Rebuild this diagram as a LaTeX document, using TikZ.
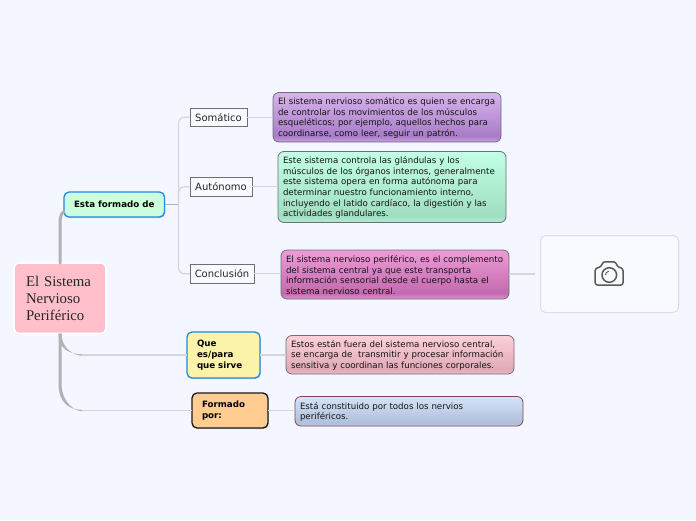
\documentclass[tikz,border=0pt]{standalone}
\usepackage{fontspec}
\setmainfont{DejaVu Sans}
\newfontfamily\rootfont{Liberation Serif}
\usetikzlibrary{shadows,calc}
\definecolor{bgc}{HTML}{F4F7FF}
\definecolor{thinline}{HTML}{D4D6DC}
\definecolor{trunk}{HTML}{B2B2B6}
\definecolor{edgegray}{HTML}{6E6E78}
\definecolor{rootpink}{HTML}{FFC0CB}
\definecolor{borderblue}{HTML}{1E88E5}
\definecolor{puA}{RGB}{201,160,224}\definecolor{puB}{RGB}{168,124,200}\definecolor{puC}{RGB}{216,180,236}
\definecolor{grA}{RGB}{176,236,210}\definecolor{grB}{RGB}{160,222,194}\definecolor{grC}{RGB}{194,255,228}
\definecolor{piA}{RGB}{226,146,208}\definecolor{piB}{RGB}{194,106,174}\definecolor{piC}{RGB}{238,156,216}
\definecolor{roA}{RGB}{236,186,198}\definecolor{roB}{RGB}{224,170,182}\definecolor{roC}{RGB}{252,208,218}
\definecolor{blA}{RGB}{190,204,228}\definecolor{blB}{RGB}{176,192,220}\definecolor{blC}{RGB}{214,227,248}
\pgfdeclareverticalshading{gpurple}{100bp}{color(0bp)=(puA);color(25bp)=(puA);color(31bp)=(puB);color(75bp)=(puC);color(100bp)=(puC)}
\pgfdeclareverticalshading{ggreen}{100bp}{color(0bp)=(grA);color(25bp)=(grA);color(30bp)=(grB);color(75bp)=(grC);color(100bp)=(grC)}
\pgfdeclareverticalshading{gpink}{100bp}{color(0bp)=(piA);color(25bp)=(piA);color(31bp)=(piB);color(75bp)=(piC);color(100bp)=(piC)}
\pgfdeclareverticalshading{grose}{100bp}{color(0bp)=(roA);color(25bp)=(roA);color(31bp)=(roB);color(75bp)=(roC);color(100bp)=(roC)}
\pgfdeclareverticalshading{gblue}{100bp}{color(0bp)=(blA);color(25bp)=(blA);color(31bp)=(blB);color(75bp)=(blC);color(100bp)=(blC)}
\tikzset{
  x=1pt,y=-1pt,
  every node/.style={outer sep=0pt},
  detail/.style={draw=edgegray,line width=0.8pt,rounded corners=6pt,anchor=north west,
    minimum width=228pt,text width=218pt,inner xsep=5pt,inner ysep=0pt,align=left,
    font=\fontsize{8.65}{10.7}\selectfont,text=black!92},
  topic/.style={draw=edgegray,fill=white!40!bgc,line width=0.8pt,anchor=north west,inner sep=0pt,
    minimum height=18.5pt,font=\fontsize{10}{12}\selectfont,text=black!85},
  main/.style={line width=1.3pt,rounded corners=5pt,anchor=north west,inner xsep=10pt,inner ysep=0pt,
    align=left,font=\fontsize{8.7}{10.7}\selectfont\bfseries,text=black,
    drop shadow={shadow xshift=0.5pt,shadow yshift=-1pt,opacity=.3,fill=black!60}},
  thin/.style={draw=thinline,line width=1.2pt},
  thick trunk/.style={draw=trunk,line width=3pt},
}
\begin{document}
\begin{tikzpicture}
\useasboundingbox[fill=bgc] (0,0) rectangle (696,520);
% nodes
\node[draw=white,line width=1.6pt,fill=rootpink,rounded corners=5pt,anchor=north west,
  minimum width=92pt,minimum height=70.5pt,text width=68pt,inner xsep=12pt,inner ysep=0pt,align=left,
  font=\rootfont\fontsize{14.8}{17}\selectfont,text=black!85] (root) at (14,263)
  {El Sistema\\Nervioso\\Periférico};
\node[main,draw=borderblue,fill={rgb,255:red,204;green,255;blue,221},minimum width=100pt,minimum height=25pt] (esta) at (64,192) {Esta formado de};
\node[main,draw=borderblue,fill={rgb,255:red,252;green,243;blue,170},minimum width=73pt,minimum height=46pt,text width=53pt] (que) at (187,332) {Que\\es/para\\que sirve};
\node[main,draw=black!90,fill={rgb,255:red,255;green,204;blue,145},minimum width=76pt,minimum height=35pt,text width=56pt] (formado) at (192,393) {Formado\\por:};
\node[topic,minimum width=57pt] (soma) at (190,108) {Somático};
\node[topic,minimum width=62pt] (auto) at (190,177.5) {Autónomo};
\node[topic,minimum width=64pt] (conc) at (190,264.5) {Conclusión};
\node[detail,shading=gpurple,minimum height=49.5pt,yshift=0pt] (d1) at (273,92.5) {\rule{0pt}{8pt}El sistema nervioso somático es quien se encarga\\de controlar los movimientos de los músculos\\esqueléticos; por ejemplo, aquellos hechos para\\coordinarse, como leer, seguir un patrón.};
\node[detail,shading=ggreen,minimum height=71pt] (d2) at (278,151.5) {\rule{0pt}{8pt}Este sistema controla las glándulas y los\\músculos de los órganos internos, generalmente\\este sistema opera en forma autónoma para\\determinar nuestro funcionamiento interno,\\incluyendo el latido cardíaco, la digestión y las\\actividades glandulares.};
\node[detail,shading=gpink,minimum height=49pt] (d3) at (281,250) {\rule{0pt}{8pt}El sistema nervioso periférico, es el complemento\\del sistema central ya que este transporta\\información sensorial desde el cuerpo hasta el\\sistema nervioso central.};
\node[detail,shading=grose,minimum height=38.5pt] (d4) at (286,335.5) {\rule{0pt}{8pt}Estos están fuera del sistema nervioso central,\\se encarga de\ \ transmitir y procesar información\\sensitiva y coordinan las funciones corporales.};
\node[detail,shading=gblue,minimum height=29.5pt,draw=black!30!purple!50!gray] (d5) at (295,396.5) {\rule{0pt}{8pt}Está constituido por todos los nervios\\periféricos.};
\node[draw=black!10!bgc,fill=white!35!bgc,line width=1pt,rounded corners=5pt,anchor=north west,minimum width=138pt,minimum height=77pt] (img) at (540.5,235.5) {};
\coordinate (imgin) at (535,274);
% connectors from root
\draw[thin] ($(que.west)+(-105,0)$) -- (que.west);
\draw[thin] ($(formado.west)+(-110,0)$) -- (formado.west);
\draw[thick trunk,line cap=round] (root.north) -- ($(root.north)+(0,-33)$) .. controls ($(root.north)+(0,-44)$) and ($(esta.west)+(-4,9)$) .. ($(esta.west)+(0,7)$);
% tapered branches: wide at the root, hairline where they meet the thin line
\fill[trunk] ($(root.south)+(-1.5,0)$) .. controls ($(root.south)+(-1.5,15)$) and ($(que.west)+(-118,-0.7)$) .. ($(que.west)+(-105,-0.7)$)
  -- ($(que.west)+(-105,0.7)$) .. controls ($(que.west)+(-113,0.7)$) and ($(root.south)+(1.5,15)$) .. ($(root.south)+(1.5,0)$) -- cycle;
\fill[trunk] ($(root.south)+(-1.5,0)$) -- ($(root.south)+(-1.5,50)$) .. controls ($(root.south)+(-1.5,70)$) and ($(formado.west)+(-122,-0.7)$) .. ($(formado.west)+(-110,-0.7)$)
  -- ($(formado.west)+(-110,0.7)$) .. controls ($(formado.west)+(-118,0.7)$) and ($(root.south)+(1.5,68)$) .. ($(root.south)+(1.5,50)$) -- ($(root.south)+(1.5,0)$) -- cycle;
% connectors
\draw[draw=trunk,line width=1.1pt] (esta.east) -- ++(14,0);
\draw[thin,rounded corners=6pt] ($(esta.east)+(14,0)$) |- (soma.west);
\draw[thin,rounded corners=6pt] ($(esta.east)+(14,0)$) |- (auto.west);
\draw[thin,rounded corners=6pt] ($(esta.east)+(14,0)$) |- (conc.west);
\draw[thin] (soma.east) -- (soma.east -| d1.west);
\draw[thin] (auto.east) -- (auto.east -| d2.west);
\draw[thin] (conc.east) -- (conc.east -| d3.west);
\draw[thin] (que.east) -- (que.east -| d4.west);
\draw[thin] (formado.east) -- (formado.east -| d5.west);
\draw[thin] (d3.east |- imgin) -- (imgin);
% camera icon
\begin{scope}[draw=black!65,line width=1.5pt,line join=round]
\draw[rounded corners=2.2pt] (595.2,268.5) -- (601,266.8) -- (603,261.8) -- (615.5,261.8) -- (617.5,266.8) -- (623,268.5) -- (623,285) -- (595.2,285) -- cycle;
\draw (609.3,275) circle (7.3);
\draw[line width=0.9pt] (605.5,275) arc (180:260:3.9);
\end{scope}
\end{tikzpicture}
\end{document}
